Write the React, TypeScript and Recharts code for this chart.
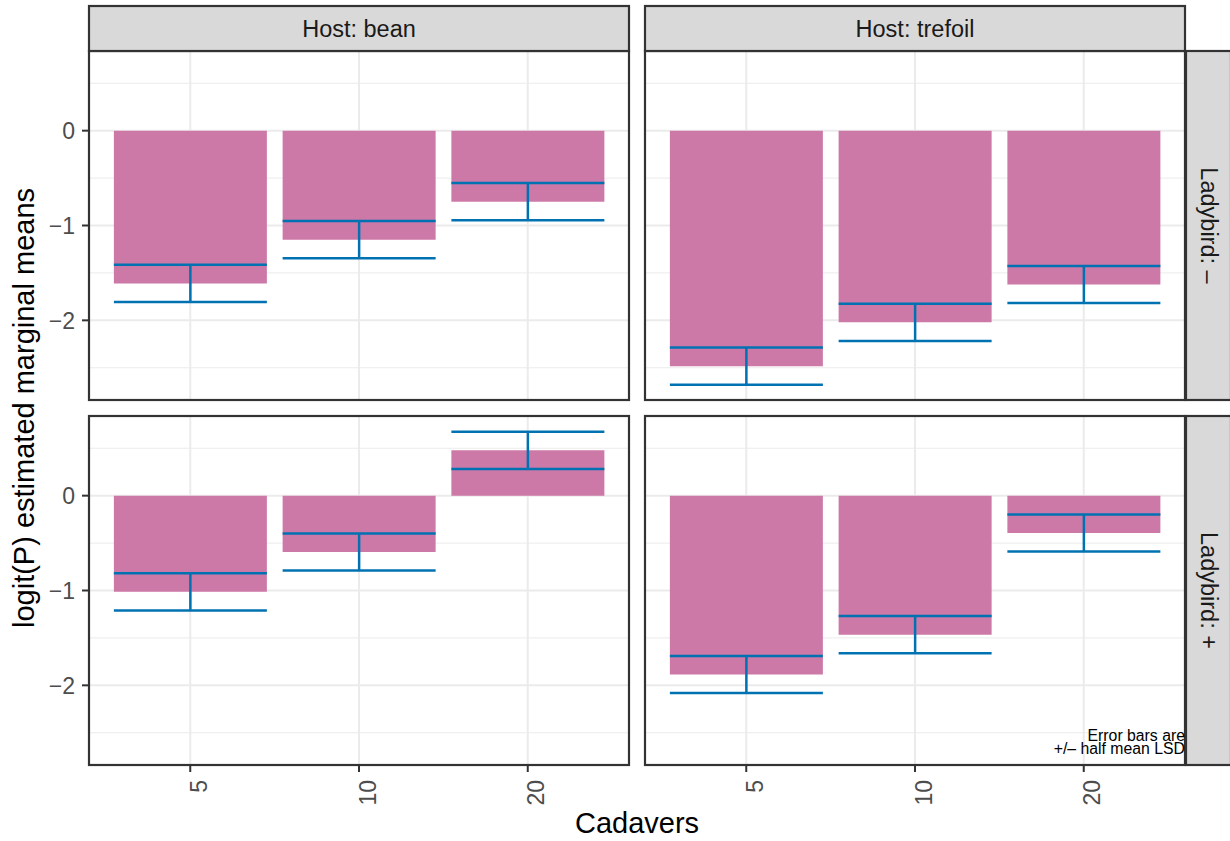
import { Bar, CartesianGrid, ComposedChart, ErrorBar, XAxis, YAxis } from "recharts";

const FONT = '"Liberation Sans", Arial, Helvetica, sans-serif';

const cadavers = ["5", "10", "20"];
const hosts = ["bean", "trefoil"];
const ladybirds = ["\u2013", "+"];

// logit(P) estimated marginal means, one array per facet
const beanMinus = [-1.611, -1.149, -0.749];
const trefoilMinus = [-2.483, -2.021, -1.622];
const beanPlus = [-1.014, -0.594, 0.478];
const trefoilPlus = [-1.886, -1.466, -0.394];
// error bars are +/- half the mean LSD
const halfMeanLSD = 0.196;

const yTicks = [-2, -1, 0];
const yMinor = [-2.5, -1.5, -0.5, 0.5];
const yDomain = [-2.84, 0.84];

const PANEL_W = 540;
const PANEL_H = 349;
const COL_X = [89, 645];
const ROW_Y = [51, 416];
const AXIS_H = 70;

const fmt = (v: number) => (v < 0 ? "\u2212" + Math.abs(v) : String(v));

function CadaverTick(props: any) {
  const { x, y, payload } = props;
  return (
    <text
      transform={`translate(${x + 16.5},${y}) rotate(-90)`}
      textAnchor="end"
      fill="#4D4D4D"
      fontSize={23}
      fontFamily={FONT}
    >
      {payload.value}
    </text>
  );
}

function Panel({ means, col, row }: { means: number[]; col: number; row: number }) {
  const showY = col === 0;
  const showX = row === 1;
  const data = cadavers.map((c, i) => ({ cadavers: c, mean: means[i], err: halfMeanLSD }));
  const left = showY ? 0 : COL_X[col];
  const width = showY ? COL_X[0] + PANEL_W : PANEL_W;
  const height = PANEL_H + (showX ? AXIS_H : 0);

  return (
    <div style={{ position: "absolute", left, top: ROW_Y[row] }}>
      <ComposedChart
        width={width}
        height={height}
        data={data}
        margin={{ top: 0, right: 0, bottom: 0, left: 0 }}
      >
        <CartesianGrid horizontalValues={yMinor} vertical={false} stroke="#EBEBEB" strokeWidth={1} />
        <CartesianGrid horizontalValues={yTicks} stroke="#EBEBEB" strokeWidth={2} />
        <XAxis
          dataKey="cadavers"
          hide={!showX}
          height={AXIS_H}
          padding={{ left: 16.875, right: 16.875 }}
          axisLine={false}
          tickLine={{ stroke: "#333333", strokeWidth: 2 }}
          tickSize={7}
          tickMargin={8}
          interval={0}
          tick={(p: any) => <CadaverTick {...p} />}
        />
        <YAxis
          type="number"
          domain={yDomain}
          ticks={yTicks}
          allowDataOverflow
          hide={!showY}
          width={COL_X[0]}
          axisLine={false}
          tickLine={{ stroke: "#333333", strokeWidth: 2 }}
          tickSize={7}
          tickMargin={7}
          tickFormatter={fmt}
          tick={{ fill: "#4D4D4D", fontSize: 23, fontFamily: FONT }}
        />
        <Bar dataKey="mean" fill="#CC79A7" barSize={153} isAnimationActive={false}>
          <ErrorBar dataKey="err" width={76.5} stroke="#0072B2" strokeWidth={2.5} isAnimationActive={false} />
        </Bar>
      </ComposedChart>
    </div>
  );
}

export default function App() {
  const panels = [
    [beanMinus, trefoilMinus],
    [beanPlus, trefoilPlus]
  ];

  return (
    <div
      style={{
        position: "absolute",
        left: 0,
        top: 0,
        width: 1230,
        height: 841,
        overflow: "hidden",
        background: "#ffffff",
        fontFamily: FONT
      }}
    >
      {panels.map((rowMeans, r) =>
        rowMeans.map((means, c) => <Panel key={`${r}-${c}`} means={means} col={c} row={r} />)
      )}

      <svg
        width={1230}
        height={841}
        style={{ position: "absolute", left: 0, top: 0, pointerEvents: "none" }}
        fontFamily={FONT}
      >
        {ROW_Y.map((ry) =>
          COL_X.map((cx) => (
            <rect
              key={`b${ry}-${cx}`}
              x={cx}
              y={ry}
              width={PANEL_W}
              height={PANEL_H}
              fill="none"
              stroke="#333333"
              strokeWidth={2.2}
            />
          ))
        )}

        {hosts.map((h, i) => (
          <g key={h}>
            <rect x={COL_X[i]} y={6} width={PANEL_W} height={45} fill="#D9D9D9" stroke="#333333" strokeWidth={2.2} />
            <text x={COL_X[i] + PANEL_W / 2} y={37.3} textAnchor="middle" fontSize={23.5} fill="#1A1A1A">
              Host: {h}
            </text>
          </g>
        ))}

        {ladybirds.map((l, i) => (
          <g key={l}>
            <rect x={1186} y={ROW_Y[i]} width={45} height={PANEL_H} fill="#D9D9D9" stroke="#333333" strokeWidth={2.2} />
            <text
              transform={`translate(1200.5,${ROW_Y[i] + PANEL_H / 2}) rotate(90)`}
              textAnchor="middle"
              fontSize={23.5}
              fill="#1A1A1A"
            >
              Ladybird: {l}
            </text>
          </g>
        ))}

        <text
          transform={`translate(33.5,${(ROW_Y[0] + ROW_Y[1] + PANEL_H) / 2}) rotate(-90)`}
          textAnchor="middle"
          fontSize={29}
          fill="#000000"
        >
          logit(P) estimated marginal means
        </text>
        <text x={(COL_X[0] + COL_X[1] + PANEL_W) / 2} y={832.7} textAnchor="middle" fontSize={29} fill="#000000">
          Cadavers
        </text>

        <text x={1185} y={741} textAnchor="end" fontSize={15.8} fill="#000000">
          Error bars are
        </text>
        <text x={1185} y={754} textAnchor="end" fontSize={15.8} fill="#000000">
          +/{"\u2013"} half mean LSD
        </text>
      </svg>
    </div>
  );
}
